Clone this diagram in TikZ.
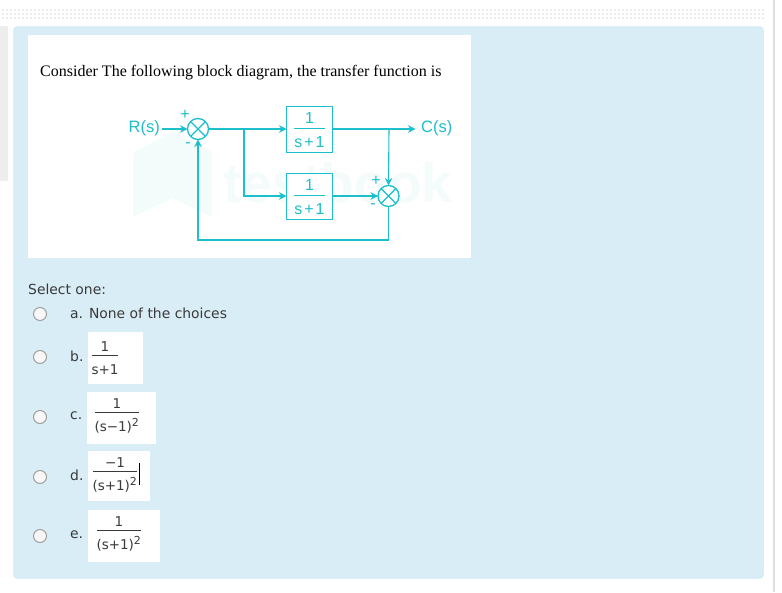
\documentclass[tikz,border=0pt]{standalone}
\usepackage{fontspec}
\usepackage{xcolor}
\usetikzlibrary{arrows.meta,positioning}
\setmainfont{DejaVu Sans}
\newfontfamily\serifface{Liberation Serif}
\newfontfamily\armface{Liberation Sans}
\definecolor{panelblue}{HTML}{D9EDF7}
\definecolor{panelline}{HTML}{BCE8F1}
\definecolor{wire}{HTML}{1CBFCB}
\definecolor{faint}{HTML}{F4FBFB}
\definecolor{bodytext}{HTML}{3A3A3A}
\newcommand{\barfrac}[2]{$\displaystyle{\mbox{\raisebox{-2pt}[\height][0pt]{#1}}\above 0.9pt\mbox{\rule{0pt}{16pt}#2}}$}
\newcommand{\sqr}{$^{\mbox{\fontsize{11}{12}\selectfont 2}}$}
\tikzset{
  blockbox/.style={draw=wire, line width=1pt, fill=white, minimum width=46pt, minimum height=46pt,
                   inner sep=0pt, outer sep=0pt, text=wire, font=\armface\fontsize{16}{18}\selectfont},
  junction/.style={draw=wire, line width=1.3pt, circle, minimum size=21pt, inner sep=0pt, outer sep=0pt},
  flow/.style={draw=wire, line width=1.1pt, -{Stealth[length=7.5pt,width=7.5pt,inset=2.5pt]}},
  wireline/.style={draw=wire, line width=1.1pt},
  sig/.style={text=wire, inner sep=0pt, font=\armface\fontsize{16.5}{18}\selectfont},
  signmark/.style={text=wire, inner sep=0pt, font=\armface\fontsize{16}{16}\selectfont},
  radio/.style={circle, draw=gray!75, line width=1pt, fill=gray!6, minimum size=13pt, inner sep=0pt},
  choice/.style={text=bodytext, anchor=west, inner sep=0pt, font=\fontsize{13.9}{17}\selectfont},
  sheet/.style={fill=white, draw=none},
  mathopt/.style={text=bodytext, inner sep=0pt, font=\fontsize{13.5}{15}\selectfont},
}
\begin{document}
\begin{tikzpicture}[x=1pt,y=-1pt]
  \useasboundingbox (0,0) rectangle (782,592);
  \fill[white] (0,0) rectangle (782,592);
  % page furniture
  \foreach \row in {8.5,12.5,16.5}
    \foreach \col in {2,6,...,762}
      \fill[gray!16] (\col,\row) rectangle ++(2.2,2.2);
  \draw[gray!25, line width=1.5pt] (774,0) -- (774,592);
  \fill[gray!14] (0,26) rectangle (7.5,181);
  \draw[panelline, fill=panelblue, rounded corners=4pt] (13.5,26.5) rectangle (763.5,578.5);
  \fill[sheet] (28,35) rectangle (471,258);
  % watermark
  \fill[faint] (133,153) -- (173,132) -- (212,152) -- (212,217) -- (172,198) -- (133,217) -- cycle;
  \node[text=faint, inner sep=0pt, anchor=west, font=\armface\bfseries\fontsize{55}{57}\selectfont] (mark) at (223,183) {testbook};
  % question
  \node[anchor=west, inner sep=0pt, text=black, font=\serifface\fontsize{16}{18}\selectfont] (prompt) at (40,73)
    {Consider The following block diagram, the transfer function is};
  % block diagram
  \node[junction] (sum1) at (198,129) {};
  \draw[wireline] (sum1.45) -- (sum1.225) (sum1.135) -- (sum1.315);
  \node[blockbox, right=78pt of sum1] (g1) {\barfrac{1}{s\kern2pt+\kern2pt1}};
  \node[blockbox, below=21pt of g1] (g2) {\barfrac{1}{s\kern2pt+\kern2pt1}};
  \node[junction, right=45.5pt of g2] (sum2) {};
  \draw[wireline] (sum2.45) -- (sum2.225) (sum2.135) -- (sum2.315);
  \node[sig, anchor=east] (rs) at (160,128) {R(s)};
  \node[sig, anchor=west] (cs) at (421,128) {C(s)};
  \coordinate (split1) at (244,129);
  \coordinate (split2) at (389,129);
  \coordinate (back) at (198,240);
  \node[signmark] (p1) at (185,115) {+};
  \node[signmark] (m1) at (188,145) {-};
  \node[signmark] (p2) at (376,181) {+};
  \node[signmark] (m2) at (373,206) {-};
  \draw[flow, shorten <=2pt] (rs.east |- sum1) -- (sum1.west);
  \draw[flow] (sum1.east) -- (g1.west);
  \draw[flow] (split1) |- (g2.west);
  \draw[flow, shorten >=5.5pt] (g1.east) -- (cs.west |- g1);
  \draw[flow] (split2) -- (sum2.north);
  \draw[flow] (g2.east) -- (sum2.west);
  \draw[flow] (sum2.south) |- (back) -- (sum1.south);
  % answers
  \node[choice] (sel) at (28,289) {Select one:};
  \node[radio] (ra) at (40,314) {};
  \node[radio] (rb) at (40,357) {};
  \node[radio] (rc) at (40,417) {};
  \node[radio] (rd) at (40,477) {};
  \node[radio] (re) at (40,536) {};
  \node[choice] (la) at (70,313) {a. None of the choices};
  \node[choice] (lb) at (70,356) {b.};
  \node[choice] (lc) at (70,416) {c.};
  \node[choice] (ld) at (70,475) {d.};
  \node[choice] (le) at (70,535) {e.};
  \fill[sheet] (88,332) rectangle (143,384);
  \fill[sheet] (87,392) rectangle (156,444);
  \fill[sheet] (88,451) rectangle (150,501);
  \fill[sheet] (88,510) rectangle (160,562);
  \node[mathopt] (fb) at (105,357) {\barfrac{1}{s+1}};
  \node[mathopt] (fc) at (117,415) {\barfrac{1}{(s−1)\sqr}};
  \node[mathopt] (fd) at (115,474) {\barfrac{−1}{(s+1)\sqr}};
  \node[mathopt] (fe) at (119,533) {\barfrac{1}{(s+1)\sqr}};
  \draw[black, line width=0.8pt] (139,463) -- (139,485);
\end{tikzpicture}
\end{document}
